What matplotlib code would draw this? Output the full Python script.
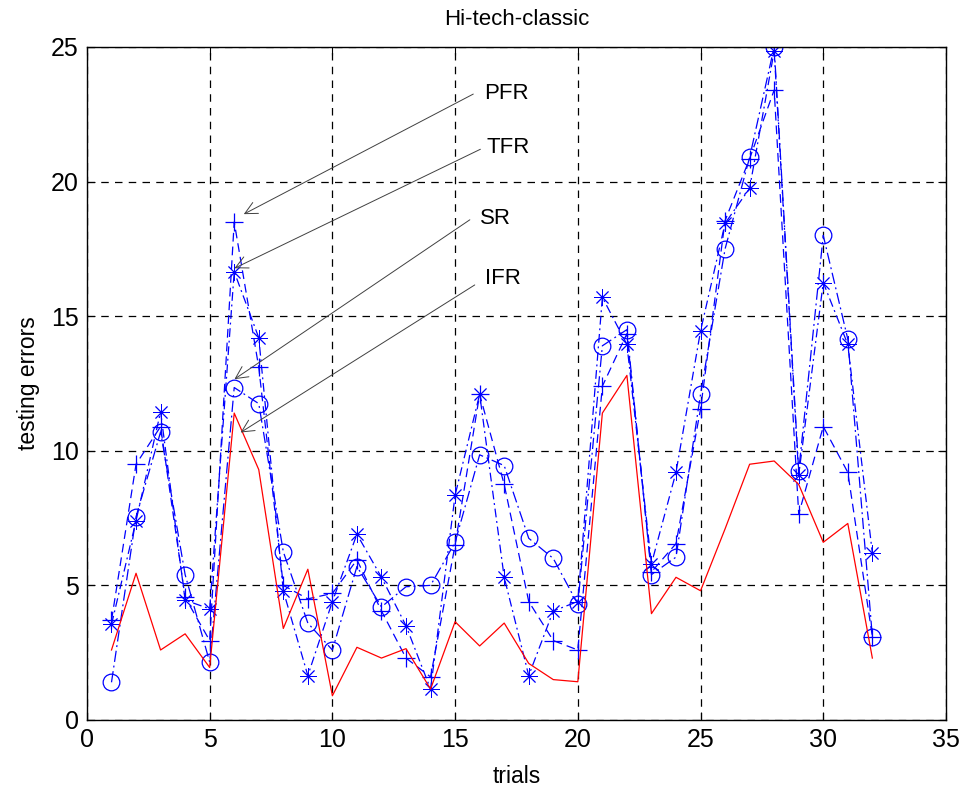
import numpy as np
import matplotlib
matplotlib.use('Agg')
import matplotlib.pyplot as plt

plt.rcParams['font.family'] = ['Liberation Sans', 'DejaVu Sans']

# -----------------------------
# data
# -----------------------------
trials = np.arange(1, 33)

pfr = [3.7, 9.5, 10.9, 4.55, 2.95, 18.5, 13.1, 5.0, 4.5, 4.7,
       5.95, 4.05, 2.3, 1.6, 6.5, 12.1, 8.75, 4.4, 2.95, 2.6,
       12.4, 14.35, 5.5, 6.55, 11.55, 18.55, 20.85, 23.4, 7.65, 10.9,
       9.2, 3.1]
tfr = [3.55, 7.4, 11.45, 4.45, 4.13, 16.65, 14.2, 4.8, 1.65, 4.4,
       6.9, 5.3, 3.5, 1.15, 8.35, 12.1, 5.3, 1.65, 4.05, 4.4,
       15.7, 13.95, 5.8, 9.2, 14.45, 18.45, 19.75, 24.85, 9.1, 16.25,
       13.95, 6.2]
sr = [1.4, 7.55, 10.7, 5.4, 2.15, 12.35, 11.75, 6.25, 3.6, 2.6,
      5.7, 4.2, 4.95, 5.0, 6.6, 9.85, 9.45, 6.75, 6.0, 4.3,
      13.9, 14.5, 5.4, 6.05, 12.1, 17.5, 20.9, 25.0, 9.25, 18.0,
      14.15, 3.1]
ifr = [2.6, 5.45, 2.6, 3.2, 1.95, 11.4, 9.3, 3.4, 5.6, 0.9,
       2.7, 2.3, 2.65, 1.15, 3.65, 2.75, 3.6, 2.1, 1.5, 1.42,
       11.4, 12.8, 3.95, 5.3, 4.8, 7.1, 9.5, 9.62, 8.75, 6.6,
       7.3, 2.3]

# label text, text position, arrow tail and tip
labels = ['PFR', 'TFR', 'SR', 'IFR']
label_xy = [(16.17, 23.28), (16.28, 21.28), (16.03, 18.64), (16.2, 16.41)]
arrow_tail = [(15.74, 23.25), (16.03, 21.2), (15.6, 18.58), (15.8, 16.16)]
arrow_tip = [(6.39, 18.79), (6.01, 16.78), (6.01, 12.66), (6.26, 10.68)]

# -----------------------------
# plot
# -----------------------------
fig = plt.figure(figsize=(9.64, 7.96), dpi=100)
ax = fig.add_axes([0.0902, 0.0955, 0.8911, 0.8455])

lw = 0.9
ax.plot(trials, pfr, color='blue', marker='+', markersize=13, markeredgewidth=0.9,
        lw=lw, dashes=(7, 4))
ax.plot(trials, tfr, color='blue', marker=(8, 2, 0), markersize=12, markeredgewidth=0.65,
        lw=lw, dashes=(7, 3, 1.5, 3))
ax.plot(trials, sr, color='blue', marker='o', markersize=12, markerfacecolor='none',
        markeredgewidth=0.9, lw=lw, dashes=(9, 3, 1.5, 3))
ax.plot(trials, ifr, color='red', lw=lw)

for lab, txy, tail, tip in zip(labels, label_xy, arrow_tail, arrow_tip):
    ax.text(txy[0], txy[1], lab, fontsize=16, va='center', ha='left')
    ax.annotate('', xy=tip, xytext=tail,
                arrowprops=dict(arrowstyle='->', color='#404040', lw=0.7,
                                mutation_scale=22, shrinkA=0, shrinkB=0))

ax.set_xlim(0, 35)
ax.set_ylim(0, 25)
ax.set_xticks(np.arange(0, 36, 5))
ax.set_yticks(np.arange(0, 26, 5))
ax.tick_params(direction='in', top=True, right=True, length=6, labelsize=18, pad=6)
ax.grid(True, color='black', linestyle=(0, (6, 5)), lw=0.9)
for s in ax.spines.values():
    s.set_linewidth(1.0)

ax.set_xlabel('trials', fontsize=16.5, labelpad=9)
ax.set_ylabel('testing errors', fontsize=16.5, labelpad=8)
ax.set_title('Hi-tech-classic', fontsize=16, pad=16)

fig.savefig('out.png', dpi=100)
